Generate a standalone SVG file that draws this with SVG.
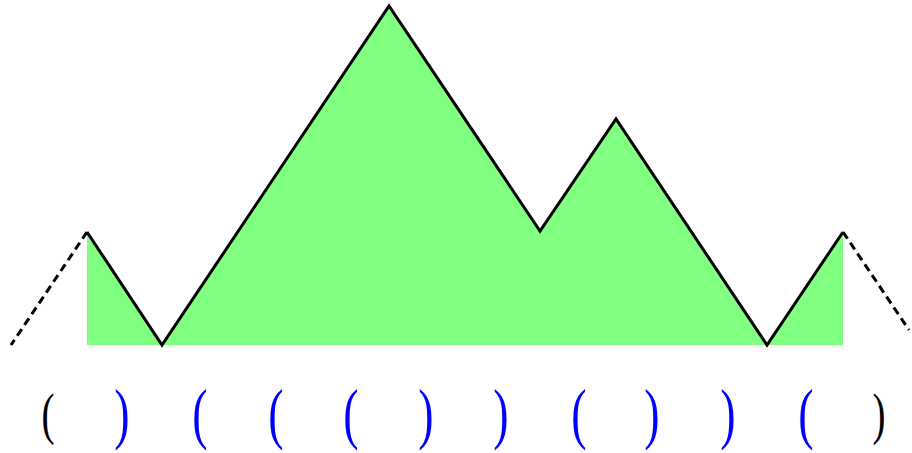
<svg xmlns="http://www.w3.org/2000/svg" width="912" height="453" viewBox="0 0 912 453">
<style>
.p{font-family:"Liberation Serif","DejaVu Serif",serif;text-anchor:middle}
.b{fill:#0000ff;font-size:46px}
.k{fill:#000;font-size:39px}
.path{fill:none;stroke:#000;stroke-width:3;stroke-linejoin:miter}
.dash{fill:none;stroke:#000;stroke-width:3;stroke-dasharray:8,5}
</style>
<g id="area">
<polygon points="87,345 87,232 162,345 389,6 540,231 616,119 767,345 843,232 843,345" fill="#80ff80"/>
</g>
<g id="connectors">
<polyline class="path" points="87,232 162,345 389,6 540,231 616,119 767,345 843,232"/>
<line class="dash" x1="87" y1="232" x2="11" y2="345"/>
<line class="dash" x1="843" y1="232" x2="909" y2="330"/>
</g>
<g id="labels">
<text class="p k" transform="translate(48,433) scale(1,1.45)">(</text>
<text class="p b" transform="translate(122,436) scale(1,1.45)">)</text>
<text class="p b" transform="translate(200,436) scale(1,1.45)">(</text>
<text class="p b" transform="translate(276,436) scale(1,1.45)">(</text>
<text class="p b" transform="translate(351,436) scale(1,1.45)">(</text>
<text class="p b" transform="translate(426,436) scale(1,1.45)">)</text>
<text class="p b" transform="translate(501,436) scale(1,1.45)">)</text>
<text class="p b" transform="translate(579,436) scale(1,1.45)">(</text>
<text class="p b" transform="translate(652,436) scale(1,1.45)">)</text>
<text class="p b" transform="translate(728,436) scale(1,1.45)">)</text>
<text class="p b" transform="translate(806,436) scale(1,1.45)">(</text>
<text class="p k" transform="translate(879,433) scale(1,1.45)">)</text>
</g>
</svg>
